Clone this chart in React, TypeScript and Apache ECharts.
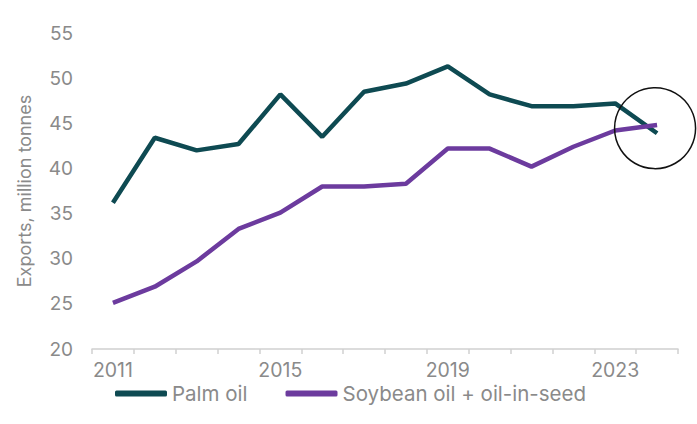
import React, { useEffect, useRef } from "react";
import * as echarts from "echarts";

const years = ["2011","2012","2013","2014","2015","2016","2017","2018","2019","2020","2021","2022","2023","2024"];
const palmOil = [36.2, 43.4, 42.0, 42.7, 48.2, 43.5, 48.5, 49.4, 51.3, 48.2, 46.9, 46.9, 47.2, 43.9];
const soybeanOil = [25.1, 26.9, 29.7, 33.3, 35.1, 38.0, 38.0, 38.3, 42.2, 42.2, 40.2, 42.4, 44.2, 44.8];
const seriesNames = ["Palm oil", "Soybean oil + oil-in-seed"];
const yAxisTitle = "Exports, million tonnes";
const shownYears = ["2011", "2015", "2019", "2023"];

const FONT = "Inter, 'Liberation Sans', sans-serif";
const GRAY = "#8a8a8a";

export default function App() {
  const ref = useRef<HTMLDivElement>(null);
  useEffect(() => {
    if (!ref.current) return;
    const chart = echarts.init(ref.current, null, { renderer: "svg" });
    chart.setOption({
      animation: false,
      backgroundColor: "#ffffff",
      textStyle: { fontFamily: FONT },
      grid: { left: 92, right: 19, top: 33, bottom: 75, containLabel: false },
      legend: {
        bottom: 20,
        left: 115,
        padding: 0,
        itemWidth: 52,
        itemHeight: 6,
        itemGap: 38,
        icon: "roundRect",
        textStyle: { fontFamily: FONT, fontSize: 20.5, color: GRAY, lineHeight: 20 },
        data: seriesNames,
      },
      xAxis: {
        type: "category",
        data: years,
        boundaryGap: true,
        axisLine: { lineStyle: { color: "#d0d0d0", width: 1.5 } },
        axisTick: { show: true, alignWithLabel: false, interval: 0, length: 5, lineStyle: { color: "#d0d0d0", width: 1.5 } },
        axisLabel: {
          interval: 0,
          formatter: (v: string) => (shownYears.includes(v) ? v : ""),
          color: GRAY,
          fontSize: 19.5,
          fontFamily: FONT,
          lineHeight: 19,
          margin: 11,
        },
      },
      yAxis: {
        type: "value",
        min: 20,
        max: 55,
        interval: 5,
        name: yAxisTitle,
        nameLocation: "middle",
        nameGap: 59,
        nameTextStyle: { color: GRAY, fontSize: 18, fontFamily: FONT },
        axisLine: { show: false },
        axisTick: { show: false },
        splitLine: { show: false },
        axisLabel: { color: GRAY, fontSize: 19, fontFamily: FONT, margin: 19 },
      },
      series: [
        {
          name: seriesNames[0],
          type: "line",
          data: palmOil,
          symbol: "none",
          lineStyle: { color: "#0e4a52", width: 4.5 },
          itemStyle: { color: "#0e4a52" },
        },
        {
          name: seriesNames[1],
          type: "line",
          data: soybeanOil,
          symbol: "none",
          lineStyle: { color: "#6c3b9e", width: 4.5 },
          itemStyle: { color: "#6c3b9e" },
        },
      ],
    });
    const last = years.length - 1;
    const mid = (palmOil[last] + soybeanOil[last]) / 2;
    const p = chart.convertToPixel({ gridIndex: 0 }, [years[last], mid]) as number[];
    if (p) {
      chart.setOption({
        graphic: [
          {
            type: "circle",
            shape: { cx: p[0] - 2, cy: p[1] - 1, r: 40.5 },
            style: { fill: "none", stroke: "#111", lineWidth: 1.5 },
            z: 10,
          },
        ],
      });
    }
    return () => chart.dispose();
  }, []);
  return (
    <div
      ref={ref}
      style={{ position: "fixed", left: 0, top: 0, width: 697, height: 424 }}
    />
  );
}
